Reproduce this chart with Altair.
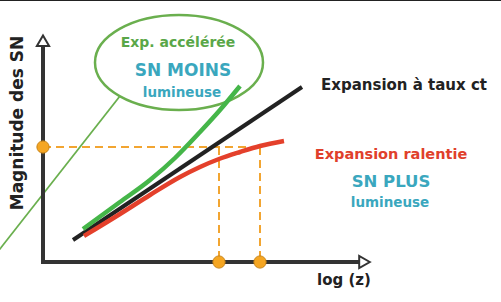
import altair as alt
import pandas as pd

# Diagram coordinates: x = log(z) position, y = magnitude position (0 at top)
black_x = [73, 302]
black_y = [240, 87]
red_x = [84, 120, 150, 180, 200, 219, 240, 260, 284]
red_y = [236, 214, 195, 177, 167, 159, 152, 146, 141]
green_x = [83, 120, 150, 175, 200, 220, 240]
green_y = [229, 202, 180, 158, 132, 110, 86]

# speech-bubble tail
tail_x = [120, -4]
tail_y = [96, 254]

# axes
origin_x, origin_y = 43, 262
yaxis_top = 47
xaxis_right = 359

# observed magnitude level and the two redshifts
mag_level = 147
z_const = 219
z_slow = 260

X = alt.Scale(domain=[0, 501], nice=False, zero=False)
Y = alt.Scale(domain=[302, 0], nice=False, zero=False)


def xy(df, **kw):
    return dict(
        x=alt.X("x:Q", scale=X, axis=None),
        y=alt.Y("y:Q", scale=Y, axis=None),
        **kw,
    )


def line(xs, ys, color, width, **extra):
    df = pd.DataFrame({"x": xs, "y": ys, "o": list(range(len(xs)))})
    return (
        alt.Chart(df)
        .mark_line(color=color, strokeWidth=width, interpolate="monotone", clip=True, **extra)
        .encode(**xy(df, order="o:O"))
    )


# top border
border = alt.Chart(pd.DataFrame({"a": [0]})).mark_rule(color="#222222", strokeWidth=2).encode(
    x=alt.value(0), x2=alt.value(501), y=alt.value(0)
)

# dashed guide lines
dash_df = pd.DataFrame(
    {
        "x": [origin_x, z_const, z_slow],
        "x2": [z_slow, z_const, z_slow],
        "y": [mag_level, mag_level, mag_level],
        "y2": [mag_level, origin_y, origin_y],
    }
)
dashes = alt.Chart(dash_df).mark_rule(color="#F2A531", strokeWidth=2, strokeDash=[8, 5]).encode(
    x=alt.X("x:Q", scale=X, axis=None),
    x2="x2:Q",
    y=alt.Y("y:Q", scale=Y, axis=None),
    y2="y2:Q",
)

# axes lines
ax_df = pd.DataFrame(
    {
        "x": [origin_x, origin_x],
        "x2": [origin_x, xaxis_right],
        "y": [origin_y, origin_y],
        "y2": [yaxis_top, origin_y],
    }
)
axes = alt.Chart(ax_df).mark_rule(color="#333333", strokeWidth=4, strokeCap="square").encode(
    x=alt.X("x:Q", scale=X, axis=None),
    x2="x2:Q",
    y=alt.Y("y:Q", scale=Y, axis=None),
    y2="y2:Q",
)

arrow_up = alt.Chart(pd.DataFrame({"x": [origin_x], "y": [40.8]})).mark_point(
    shape="triangle-up", size=150, filled=True, fill="white", stroke="#333333", strokeWidth=2, opacity=1
).encode(x=alt.X("x:Q", scale=X, axis=None), y=alt.Y("y:Q", scale=Y, axis=None))

arrow_right = alt.Chart(pd.DataFrame({"x": [364.5], "y": [origin_y]})).mark_point(
    shape="triangle-right", size=150, filled=True, fill="white", stroke="#333333", strokeWidth=2, opacity=1
).encode(x=alt.X("x:Q", scale=X, axis=None), y=alt.Y("y:Q", scale=Y, axis=None))

# speech bubble (ellipse) + tail
k = 0.565
c = 0.5523 * k
ell_path = (
    f"M -1 0 C -1 {-c} -0.5523 {-k} 0 {-k} "
    f"C 0.5523 {-k} 1 {-c} 1 0 "
    f"C 1 {c} 0.5523 {k} 0 {k} "
    f"C -0.5523 {k} -1 {c} -1 0 Z"
)
bubble = alt.Chart(pd.DataFrame({"x": [179], "y": [62.5]})).mark_point(
    shape=ell_path, size=168 * 168, filled=False, stroke="#6AAF4E", strokeWidth=2.5, opacity=1
).encode(x=alt.X("x:Q", scale=X, axis=None), y=alt.Y("y:Q", scale=Y, axis=None))

tail = line(tail_x, tail_y, "#6AAF4E", 1.8)

black = line(black_x, black_y, "#222222", 4)
green = line(green_x, green_y, "#45B649", 4.5)
red = line(red_x, red_y, "#E4402B", 4.5)

dots = alt.Chart(
    pd.DataFrame({"x": [origin_x, z_const, z_slow], "y": [mag_level, origin_y, origin_y]})
).mark_point(shape="circle", size=150, filled=True, fill="#F5A623", stroke="#C98416", strokeWidth=1, opacity=1).encode(
    x=alt.X("x:Q", scale=X, axis=None), y=alt.Y("y:Q", scale=Y, axis=None)
)

FONT = "DejaVu Sans"


def label(text, x, y, color, size, weight="bold", angle=0):
    kw = dict(
        text=text, color=color, fontSize=size, fontWeight=weight, font=FONT,
        align="center", baseline="middle",
    )
    if angle:
        kw["angle"] = angle
    return alt.Chart(pd.DataFrame({"a": [0]})).mark_text(**kw).encode(x=alt.value(x), y=alt.value(y))


TEAL = "#3AA7BE"
labels = [
    label("Exp. accélérée", 178, 43, "#5AA748", 14),
    label("SN MOINS", 183, 71, TEAL, 17),
    label("lumineuse", 182, 93, TEAL, 13.5),
    label("Expansion à taux ct", 404, 85, "#222222", 15),
    label("Expansion ralentie", 391, 155, "#E0402B", 14.5),
    label("SN PLUS", 391, 182, TEAL, 16.5),
    label("lumineuse", 390, 203, TEAL, 13.5),
    label("log (z)", 344, 280, "#222222", 15),
    label("Magnitude des SN", 18, 123, "#222222", 17, angle=270),
]

chart = (
    alt.layer(border, dashes, tail, bubble, black, green, red, axes, arrow_up, arrow_right, dots, *labels)
    .properties(width=501, height=302, padding=0, autosize="none", background="white")
    .configure_view(stroke=None)
)

chart.save("out.html", embed_options={"renderer": "svg", "actions": False})
